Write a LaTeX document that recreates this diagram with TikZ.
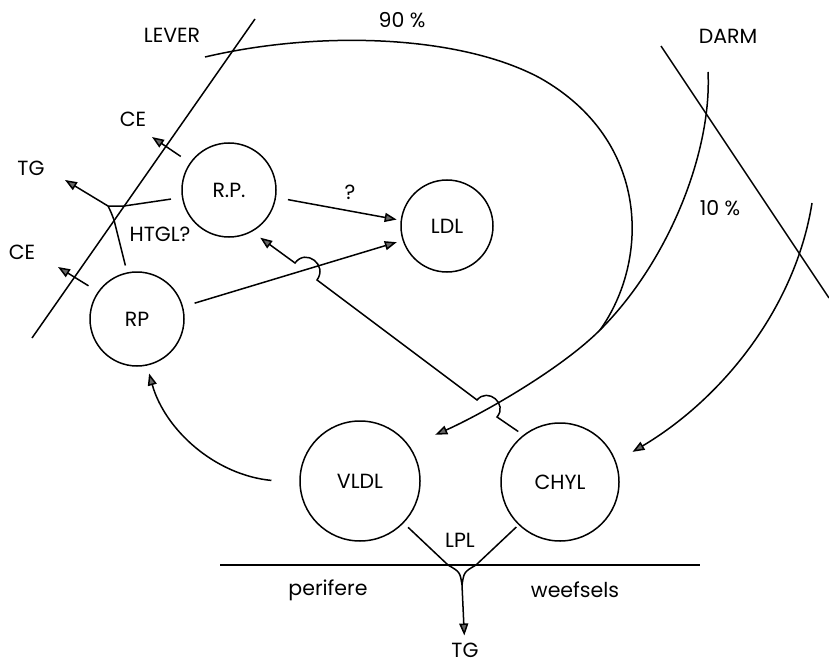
\documentclass[tikz,border=0pt]{standalone}
\usepackage{fontspec}
\setmainfont{Poppins}
\usetikzlibrary{arrows.meta}
\usetikzlibrary{positioning}
\tikzset{>=stealth}
\tikzstyle{line} = [draw, -{Triangle[length=12pt,width=9pt,open,fill=black!60]}]

\begin{document}
\begin{tikzpicture}[x=1pt, y=-1pt, line width=1.5pt,
		font=\fontsize{20.5}{22}\selectfont,
		pool/.style={draw, circle, inner sep=0pt},
		lbl/.style={inner sep=0.5pt}]
		\useasboundingbox (0,0) rectangle (829,663);
		%% Membranes
		\draw (255,19) -- (32,338);
		\draw (661,46) -- (829,298);
		\draw (220,565) -- (700,565);
		%% Pools
		\node [pool, minimum size=94pt] at (229,190) (rp1) {R.P.};
		\node [pool, minimum size=92pt] at (447,226) (ldl) {LDL};
		\node [pool, minimum size=94pt] at (137,319) (rp2) {RP};
		\node [pool, minimum size=120pt] at (360,481) (vldl) {VLDL};
		\node [pool, minimum size=118pt] at (560,482) (chyl) {CHYL};
		%% Labels
		\node [lbl] at (172,35) (lever) {LEVER};
		\node [lbl] at (402,20) (p90) {90 \%};
		\node [lbl] at (728,36) (darm) {DARM};
		\node [lbl] at (720,208) (p10) {10 \%};
		\node [lbl] at (133,119) (ce1) {CE};
		\node [lbl] at (31,168) (tg1) {TG};
		\node [lbl] at (22,252) (ce2) {CE};
		\node [lbl] at (160,234) (htgl) {HTGL?};
		\node [lbl] at (350,192) (qm) {?};
		\node [lbl] at (460,540) (lpl) {LPL};
		\node [lbl] at (465,650) (tg2) {TG};
		\node [lbl] at (328,590) (perif) {perifere};
		\node [lbl] at (575,590) (weef) {weefsels};
		%% Free ends
		\coordinate (liv) at (205,57);
		\coordinate (darm1) at (708,72);
		\coordinate (darm2) at (812,203);
		\coordinate (merge) at (600,330);
		\coordinate (ce1tip) at (152,137);
		\coordinate (ce2tip) at (58,267);
		\coordinate (tg1tip) at (65,180);
		\coordinate (htj) at (108,206);
		\coordinate (lpj) at (462,585);
		%% Links
		\path [draw] (liv) .. controls (320,30) and (460,35) .. (540,78)
			.. controls (650,140) and (650,260) .. (merge);
		\path [draw] (darm1) .. controls (712,150) and (670,260) .. (merge);
		\path [line, shorten >=28pt] (merge) .. controls (560,370) and (480,415) .. (vldl.35);
		\path [line, shorten >=19pt] (darm2) .. controls (795,310) and (720,400) .. (chyl.20);
		\path [line, shorten <=28pt, shorten >=8pt] (vldl.182) .. controls (215,475) and (165,430) .. (rp2.-78);
		\path [line, shorten <=6pt, shorten >=10pt] (chyl.128) -- (497,417)
			.. controls (508,404) and (488,387) .. (477,400) -- (317,280)
			.. controls (328,265) and (306,248) .. (295,263) -- (rp1.-61);
		\path [line, shorten <=12pt, shorten >=6pt] (rp2.15) -- (ldl.198);
		\path [line, shorten <=12pt, shorten >=4pt] (rp1.-9) -- (ldl.173);
		\path [line, shorten <=11pt] (rp1.145) -- (ce1tip);
		\path [line, shorten <=11pt] (rp2.145) -- (ce2tip);
		\path [draw, shorten <=11pt] (rp1.-171) -- (124,206) .. controls (115,206) .. (htj);
		\path [draw, shorten <=7pt] (rp2.102) -- (114,220) .. controls (111,212) .. (htj);
		\path [line] (htj) -- (tg1tip);
		\path [draw, shorten <=6pt] (vldl.-44) -- (448,565) .. controls (460,572) .. (lpj);
		\path [draw, shorten <=3pt] (chyl.-134) -- (476,565) .. controls (464,572) .. (lpj);
		\path [line, shorten >=6pt] (lpj) -- (tg2);
\end{tikzpicture}
\end{document}
